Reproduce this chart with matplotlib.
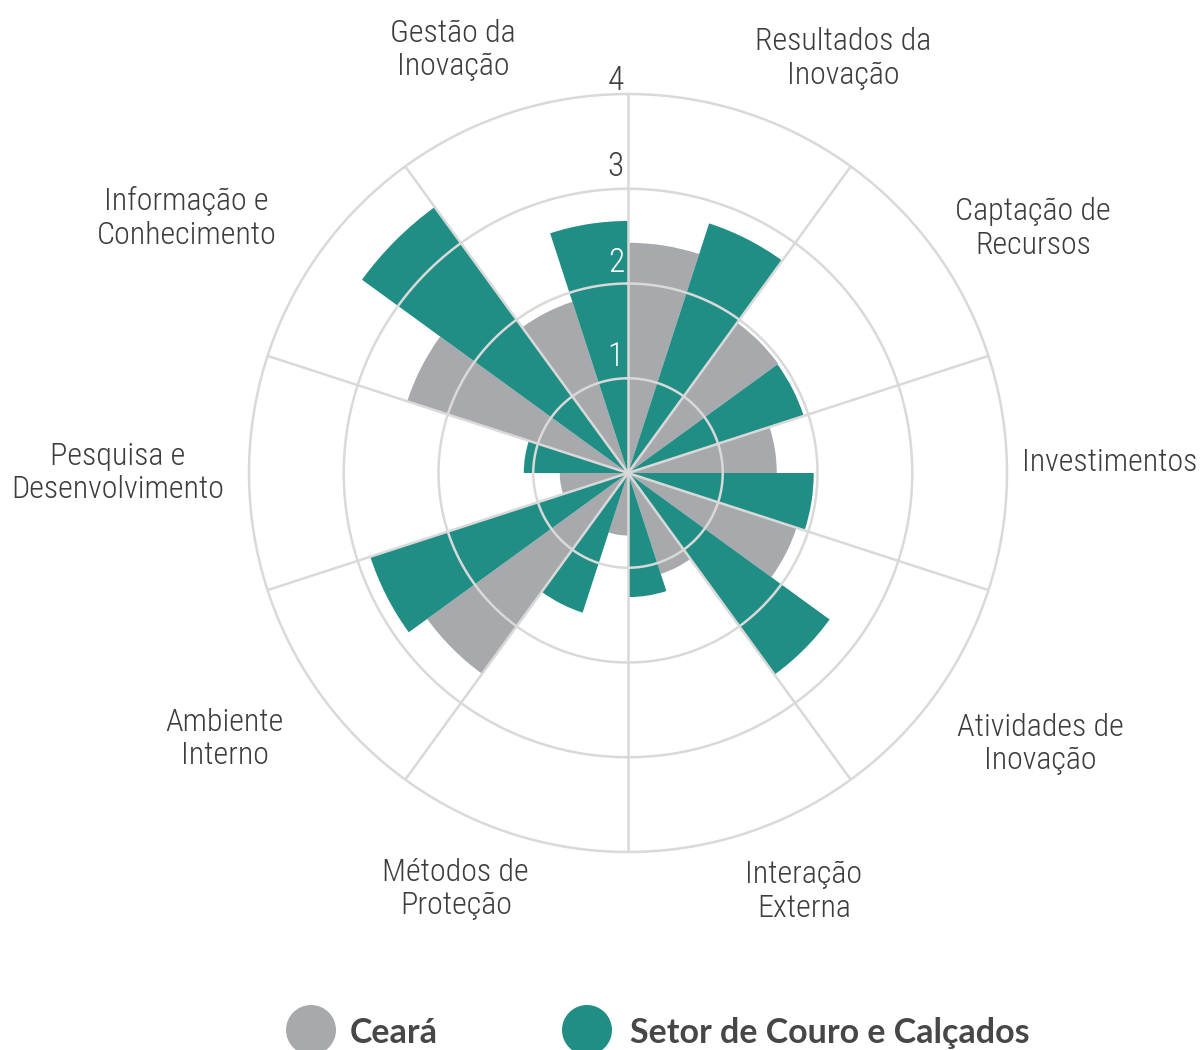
import numpy as np
import matplotlib
matplotlib.use("Agg")
import matplotlib.pyplot as plt
import matplotlib.font_manager as fm
import matplotlib.transforms as mtransforms

# ---------------- data ----------------
categories = [
    "Resultados da\nInovação", "Captação de\nRecursos", "Investimentos",
    "Atividades de\nInovação", "Interação\nExterna", "Métodos de\nProteção",
    "Ambiente\nInterno", "Pesquisa e\nDesenvolvimento", "Informação e\nConhecimento",
    "Gestão da\nInovação",
]
ceara = [2.43, 1.96, 1.57, 1.87, 1.12, 0.66, 2.62, 0.72, 2.45, 1.90]
couro = [2.77, 1.95, 1.96, 2.63, 1.31, 1.55, 2.86, 1.10, 3.47, 2.66]
series_names = ["Ceará", "Setor de Couro e Calçados"]
radial_ticks = [1, 2, 3, 4]

# label placement (angle in degrees clockwise from top, radius in data units)
label_pos = [(27.4, 4.93), (58.9, 4.99), (88.7, 5.09), (123.3, 5.21), (157.2, 4.79),
             (202.5, 4.75), (236.6, 5.10), (270.0, 5.39), (300.0, 5.38), (337.5, 4.83)]

GRAY = "#a8a9ac"
TEAL = "#208e84"
GRID = "#d9d9d9"
TXT = "#3d3d3d"

# ---------------- fonts ----------------
names = {f.name for f in fm.fontManager.ttflist}
font_kw = {}
if "Liberation Sans Narrow" in names:
    font_kw = dict(family="Liberation Sans Narrow")
elif "Roboto Condensed" in names:
    font_kw = dict(family="Roboto Condensed", fontweight="light")
elif any(f.name == "DejaVu Sans" and f.stretch == "condensed" for f in fm.fontManager.ttflist):
    font_kw = dict(family="DejaVu Sans", fontstretch="condensed")
else:
    font_kw = dict(family="DejaVu Sans")
bold_family = "Lato" if "Lato" in names else "DejaVu Sans"

# ---------------- figure ----------------
fig = plt.figure(figsize=(12, 10.5), dpi=100)
cx, cy, R = 628, 1050 - 473, 379
ax = fig.add_axes([(cx - R) / 1200, (cy - R) / 1050, 2 * R / 1200, 2 * R / 1050],
                  projection="polar")
ax.set_theta_zero_location("N")
ax.set_theta_direction(-1)
ax.set_ylim(0, 4)
ax.set_xticks([])
ax.set_yticks([])
ax.grid(False)
ax.spines["polar"].set_visible(False)
ax.patch.set_alpha(0)

n = len(categories)
sector = 2 * np.pi / n
half = sector / 2
idx = np.arange(n)
theta_gray = idx * sector + half / 2
theta_teal = idx * sector + 1.5 * half

ax.bar(theta_gray, ceara, width=half, color=GRAY, edgecolor="none", zorder=1)
ax.bar(theta_teal, couro, width=half, color=TEAL, edgecolor="none", zorder=1)

# grid drawn on top of bars
tt = np.linspace(0, 2 * np.pi, 720)
for r in radial_ticks:
    ax.plot(tt, np.full_like(tt, r), color=GRID, lw=1.8, zorder=3, clip_on=False)
for k in range(n):
    ax.plot([k * sector, k * sector], [0, radial_ticks[-1]], color=GRID, lw=1.8,
            zorder=3, clip_on=False, solid_capstyle="butt")

# radial tick labels
tick_colors = ["white", "white", TXT, TXT]
tick_dy = [12, 12, 13, 4]
for r, c, dy in zip(radial_ticks, tick_colors, tick_dy):
    tr = mtransforms.offset_copy(ax.transData, fig=fig, x=-4, y=dy, units="dots")
    ax.text(0, r, str(r), transform=tr, ha="right", va="baseline", color=c,
            fontsize=24, zorder=4, **font_kw)

# category labels
for lab, (ang, rr) in zip(categories, label_pos):
    ax.text(np.deg2rad(ang), rr, lab, ha="center", va="center", multialignment="center",
            color=TXT, fontsize=23, linespacing=1.2, clip_on=False, **font_kw)

# legend
lax = fig.add_axes([0, 0, 1, 1])
lax.set_xlim(0, 1200)
lax.set_ylim(1050, 0)
lax.axis("off")
lax.patch.set_alpha(0)
for (x0, tx), col, name in zip([(311, 350), (587, 630)], [GRAY, TEAL], series_names):
    lax.scatter([x0], [1030], s=36 ** 2, color=col, edgecolor="none", clip_on=False)
    lax.text(tx, 1033, name, ha="left", va="center", color="#474747", fontsize=24.5,
             fontweight="bold", family=bold_family)

fig.savefig("out.png", dpi=100)
